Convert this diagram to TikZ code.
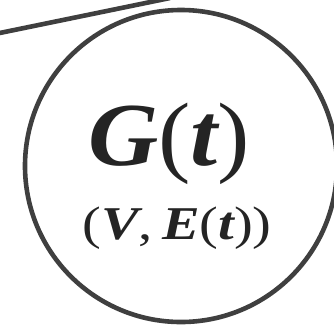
\documentclass[tikz,border=0pt]{standalone}
\usepackage{fontspec}
\usepackage{graphicx}
\usepackage{xcolor}
\usepackage{tikz}
\usetikzlibrary{positioning}
\newfontfamily\labelfont{Liberation Serif}
\definecolor{edgegray}{HTML}{3F3F3F}
\definecolor{textgray}{HTML}{242424}
\newcommand{\bi}[1]{{\bfseries\itshape #1}}

\begin{document}
\begin{tikzpicture}[x=1pt, y=-1pt,
    graphnode/.style={circle, draw=edgegray, line width=4.6pt, minimum size=312pt, inner sep=0pt},
    biglabel/.style={text=textgray, font=\labelfont\fontsize{90}{92}\selectfont, inner sep=0pt},
    smalllabel/.style={text=textgray, font=\labelfont\fontsize{47}{49}\selectfont, inner sep=0pt},
    link/.style={draw=edgegray, line width=4.6pt}
  ]
  \useasboundingbox (0,0) rectangle (334,330);
  % incoming edge
  \coordinate (from) at (-10,35);
  \coordinate (to) at (170,-2);
  \draw[link] (from) -- (to);
  % the graph G(t)
  \node[graphnode] (graph) at (181,166) {};
  \node[biglabel] (name) at (169,144) {\scalebox{1.08}[1]{\bi{G}(\bi{t})}};
  \node[smalllabel] (pair) at (177,228) {\scalebox{1.2}[1]{(\bi{V},\,\bi{E}(\bi{t}))}};
\end{tikzpicture}
\end{document}
